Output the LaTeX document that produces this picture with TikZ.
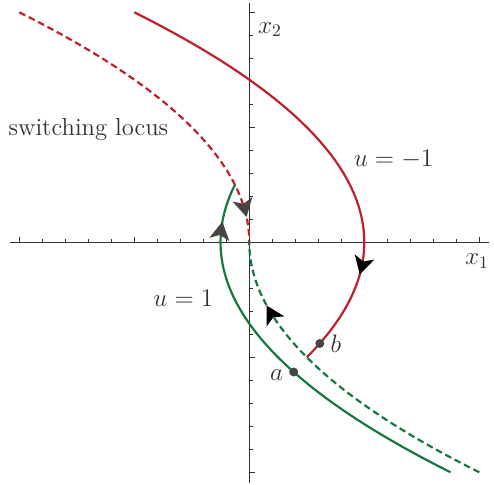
\documentclass[tikz,border=0pt]{standalone}
\usepackage{amsmath}
\usepackage{xcolor}
\usepackage{tikz}
\usetikzlibrary{arrows.meta, positioning, calc}

\definecolor{locusred}{RGB}{190,32,44}
\definecolor{pathgreen}{RGB}{22,120,62}
\definecolor{inkgray}{RGB}{72,68,68}
\definecolor{textgray}{RGB}{50,50,50}

\begin{document}
\begin{tikzpicture}[x=2.3cm, y=2.3cm, font=\fontsize{14}{17}\selectfont, text=textgray]

% Uniform sizes

\def\tickmin{0.03}
\def\tickmaj{0.05}
\def\curvewidth{1.25pt}

\tikzset{
  axisline/.style={draw=textgray, line width=0.6pt},
  tickline/.style={draw=textgray, line width=0.4pt},
  redpath/.style={draw=locusred, line width=\curvewidth},
  greenpath/.style={draw=pathgreen, line width=\curvewidth},
  dashpath/.style={dash pattern=on 3.8pt off 2.2pt},
  headtip/.style={-{Stealth[length=0.36cm, width=0.40cm, inset=0.09cm, color=#1, fill=#1]}},
  statedot/.style={circle, fill=inkgray, inner sep=0pt, minimum size=0.18cm},
  statelabel/.style={inner sep=1pt}
}

\useasboundingbox (-2.168,-2.110) rectangle (2.128,2.107);

% Axes
\draw[axisline] (-2.081,0) -- (2.085,0);
\draw[axisline] (0,-2.093) -- (0,2.081);
\foreach \i in {-10,...,10} {
  \draw[tickline] (\i/5,0) -- (\i/5,\tickmin);
  \draw[tickline] (0,\i/5) -- (\tickmin,\i/5);
}
\foreach \i in {-2,...,2} {
  \draw[tickline] (\i,0) -- (\i,\tickmaj);
  \draw[tickline] (0,\i) -- (\tickmaj,\i);
}
\node (xone) at (1.98,-0.165) {$x_1$};
\node (xtwo) at (0.18,1.85) {$x_2$};

% Switching locus (dashed)
\draw[redpath, dashpath] plot[domain=2:0, samples=60, variable=\t] ({-\t*\t/2},{\t});
\draw[greenpath, dashpath] plot[domain=-2:0, samples=60, variable=\t] ({\t*\t/2},{\t});

% Trajectories
\draw[redpath] plot[domain=2:-1, samples=80, variable=\t] ({1-\t*\t/2},{\t});
\draw[greenpath] plot[domain=-2:0.5, samples=80, variable=\t] ({\t*\t/2-0.25},{\t});

% Direction heads
\draw[redpath, headtip=black] plot[domain=-0.26:-0.28, samples=2, variable=\t] ({1-\t*\t/2},{\t});
\draw[greenpath, headtip=black] plot[domain=-0.57:-0.55, samples=2, variable=\t] ({\t*\t/2},{\t});
\draw[redpath, headtip=inkgray] plot[domain=0.24:0.22, samples=2, variable=\t] ({-\t*\t/2},{\t});
\draw[greenpath, headtip=inkgray] plot[domain=0.16:0.18, samples=2, variable=\t] ({\t*\t/2-0.25},{\t});

% States a and b
\node[statedot] (a) at (0.386,-1.128) {};
\node[statedot] (b) at (0.613,-0.880) {};
\node[statelabel, left=0.07cm of a, yshift=-0.06cm] (alabel) {$a$};
\node[statelabel, right=0.08cm of b] (blabel) {$b$};

% Curve labels
\node (locus) at (-1.399,0.977) {switching locus};
\node (uminus) at (1.255,0.724) {$u=-1$};
\node (uplus) at (-0.574,-0.49) {$u=1$};

\end{tikzpicture}
\end{document}
